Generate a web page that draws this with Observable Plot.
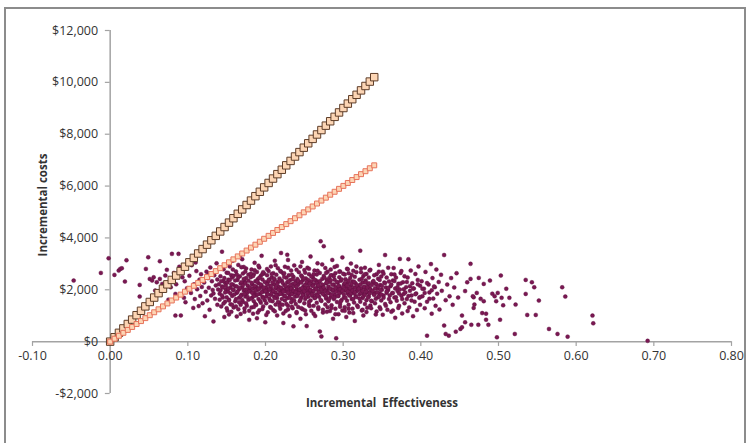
<!DOCTYPE html>
<html>
<head>
<meta charset="utf-8">
<script src="https://cdn.jsdelivr.net/npm/d3@7"></script>
<script src="https://cdn.jsdelivr.net/npm/@observablehq/plot@0.6"></script>
<style>
  html, body { margin: 0; padding: 0; background: #fff; }
  #wrap { position: relative; width: 749px; height: 443px; overflow: hidden; }
  #border { position: absolute; left: 4px; top: 7px; width: 742px; height: 460px; border: 2px solid #8c8c8c; box-sizing: border-box; }
  #chart { position: absolute; left: 0; top: 0; }
</style>
</head>
<body>
<div id="wrap"><div id="chart"></div><div id="border"></div></div>
<script>
// Axis ticks
const xTicks = [-0.1, 0, 0.1, 0.2, 0.3, 0.4, 0.5, 0.6, 0.7, 0.8];
const xTickLabels = ["-0.10", "0.00", "0.10", "0.20", "0.30", "0.40", "0.50", "0.60", "0.70", "0.80"];
const yTicks = [-2000, 0, 2000, 4000, 6000, 8000, 10000, 12000];
const yTickLabels = ["-$2,000", "$0", "$2,000", "$4,000", "$6,000", "$8,000", "$10,000", "$12,000"];

// Ceiling-ratio lines (squares)
const ceilingEffect = [0, .0057, .0113, .017, .0227, .0283, .034, .0397, .0453, .051, .0567, .0623, .068, .0737, .0793, .085, .0907, .0963, .102, .1077, .1133, .119, .1247, .1303, .136, .1417, .1473, .153, .1587, .1643, .17, .1757, .1813, .187, .1927, .1983, .204, .2097, .2153, .221, .2267, .2323, .238, .2437, .2493, .255, .2607, .2663, .272, .2777, .2833, .289, .2947, .3003, .306, .3117, .3173, .323, .3287, .3343, .34];
const costHighLine = [0, 171, 340, 510, 680, 850, 1020, 1190, 1360, 1530, 1700, 1870, 2040, 2210, 2380, 2550, 2720, 2890, 3060, 3230, 3400, 3570, 3740, 3910, 4080, 4250, 4420, 4590, 4760, 4930, 5100, 5270, 5440, 5610, 5780, 5950, 6120, 6290, 6460, 6630, 6800, 6970, 7140, 7310, 7480, 7650, 7820, 7990, 8160, 8330, 8500, 8670, 8840, 9010, 9180, 9350, 9520, 9690, 9860, 10030, 10200];
const costLowLine = [0, 113, 227, 340, 453, 567, 680, 793, 907, 1020, 1133, 1247, 1360, 1473, 1587, 1700, 1813, 1927, 2040, 2153, 2267, 2380, 2493, 2607, 2720, 2833, 2947, 3060, 3173, 3287, 3400, 3513, 3627, 3740, 3853, 3967, 4080, 4193, 4307, 4420, 4533, 4647, 4760, 4873, 4987, 5100, 5213, 5327, 5440, 5553, 5667, 5780, 5893, 6007, 6120, 6233, 6347, 6460, 6573, 6687, 6800];

// Simulated [incremental effectiveness, incremental cost] pairs
const simulations = [
[-.047,2355],[-.012,2652],[-.002,3215],[.0055,2575],[.011,2740],[.013,2806],[.015,2829],[.019,2316],[.021,3138],
[.049,3254],[.064,3100],[.046,2806],[.073,2768],[.038,2189],[.038,1737],[.051,2420],[.054,2355],[.056,2482],[.060,2289],[.064,2420],[.067,2227],[.058,1969],[.062,1903],[.071,2548],[.075,1620],[.078,2100],
[.0795,3385],[.088,3385],[.082,2650],[.085,2210],[.084,1004],[.091,1010],[.093,2480],[.095,1690],[.097,1520],[.099,2060],[.084,1840],[.089,2890],[.096,2330],
[.102,2540],[.104,1880],[.105,2950],[.107,1300],[.108,2210],[.109,1640],[.111,2720],[.112,2020],[.114,1370],[.114,3470],[.115,2390],[.116,1760],[.117,2600],[.118,2110],[.119,1480],[.110,3050],
[.121,2280],[.122,980],[.123,1920],[.124,2700],[.125,1590],[.126,2450],[.127,2080],[.128,1230],[.129,2860],[.130,1780],[.131,2330],[.132,1990],[.133,780],[.134,2560],[.135,1650],[.136,2170],[.137,3020],[.138,1420],[.139,2010],[.127,2620],[.133,1860],[.138,2400],
[.141,1850],[.142,2520],[.143,1360],[.144,3470],[.144,2130],[.145,1700],[.146,2790],[.147,950],[.148,2260],[.148,1540],[.149,2010],[.150,2660],[.151,1190],[.152,1920],[.152,2390],[.153,1620],[.154,2900],[.155,2080],[.155,1440],[.156,2560],[.157,1760],[.158,2200],[.158,3120],[.159,1320],[.159,1990],[.146,2340],[.153,1050],[.157,2470],
[.161,2140],[.161,1560],[.162,2710],[.163,970],[.163,1880],[.164,2380],[.165,1250],[.165,2960],[.166,2020],[.166,1690],[.167,2520],[.168,1420],[.168,2240],[.169,1810],[.170,3180],[.170,2090],[.171,1530],[.171,2630],[.172,1960],[.173,1150],[.173,2310],[.174,1740],[.175,2450],[.175,2820],[.176,1870],[.176,1380],[.177,2170],[.178,2580],[.178,1620],[.179,2040],[.179,840],[.172,2880],[.167,3300],[.174,2000],
[.181,1940],[.181,2480],[.182,1320],[.182,2780],[.183,1700],[.183,2210],[.184,1080],[.184,2050],[.185,2600],[.185,1560],[.186,1880],[.186,3040],[.187,2330],[.187,1450],[.188,2120],[.188,1780],[.189,2690],[.189,900],[.190,1990],[.190,2410],[.191,1640],[.191,2250],[.192,1210],[.192,2860],[.193,1840],[.193,2070],[.194,2540],[.194,1500],[.195,3310],[.195,2160],[.196,1730],[.196,2400],[.197,1920],[.197,1360],[.198,2630],[.198,2010],[.1997,745],[.199,1600],
[.201,2080],[.201,1480],[.202,2560],[.202,1870],[.203,2290],[.203,1130],[.204,2720],[.204,1990],[.205,1650],[.205,2400],[.206,2150],[.206,1340],[.207,2900],[.207,1800],[.208,2030],[.208,2470],[.209,1560],[.209,1940],[.210,2640],[.210,1220],[.211,2210],[.211,1730],[.212,2380],[.212,3120],[.213,1900],[.213,1430],[.214,2060],[.214,2580],[.215,1010],[.215,1680],[.216,2300],[.216,2830],[.217,1820],[.217,2120],[.218,1500],[.218,2440],[.219,1960],[.219,1270],[.220,2700],[.220,3420],
[.221,1850],[.221,2350],[.222,1420],[.222,2010],[.223,720],[.223,2620],[.224,1760],[.224,2180],[.225,2890],[.225,1590],[.226,2040],[.226,1180],[.227,2460],[.227,1930],[.228,1680],[.228,2290],[.229,3150],[.229,1380],[.230,2110],[.230,2560],[.231,1820],[.231,990],[.232,2380],[.232,1980],[.233,1520],[.233,2740],[.234,2070],[.234,1640],[.235,2220],[.235,1290],[.236,590],[.236,2500],[.237,1890],[.237,2940],[.238,1730],[.238,2150],[.239,1450],[.239,2330],[.240,2000],[.240,1100],[.228,3350],[.233,1950],
[.241,2420],[.241,1790],[.242,1340],[.242,2190],[.243,2680],[.243,1960],[.244,1560],[.244,2290],[.245,880],[.245,2030],[.246,2550],[.246,1700],[.247,1910],[.247,3070],[.248,1250],[.248,2370],[.249,1820],[.249,2140],[.250,2760],[.250,1480],[.251,2060],[.251,1640],[.252,2440],[.252,1060],[.253,600],[.253,1950],[.254,2260],[.254,2850],[.255,1730],[.255,2110],[.256,1410],[.256,2600],[.257,1880],[.257,2000],[.258,3280],[.258,1590],[.259,2330],[.259,1190],[.260,2170],[.260,1770],[.247,2500],[.255,2380],
[.261,1930],[.261,2480],[.262,1380],[.262,2210],[.263,2740],[.263,1680],[.264,2040],[.264,990],[.265,2360],[.265,1820],[.266,2590],[.266,1500],[.267,2120],[.267,3020],[.268,1260],[.268,1950],[.269,2300],[.269,1730],[.270,390],[.270,2650],[.271,3870],[.271,2080],[.272,200],[.272,1570],[.273,2420],[.273,1880],[.274,1120],[.274,2170],[.275,3680],[.275,2530],[.276,1790],[.276,2010],[.277,1430],[.277,2840],[.278,2250],[.278,1660],[.279,1960],[.279,2380],[.280,1330],[.280,2700],
[.281,2070],[.281,1560],[.282,2450],[.282,1870],[.283,1180],[.283,2300],[.284,2780],[.284,1720],[.285,2020],[.285,1400],[.286,2560],[.286,3150],[.287,1950],[.287,880],[.288,2200],[.288,1640],[.289,2390],[.289,1810],[.290,1270],[.290,2640],[.291,130],[.291,2090],[.292,1530],[.292,2920],[.293,1990],[.293,2280],[.294,1060],[.294,1760],[.295,2480],[.295,2140],[.296,1450],[.296,2710],[.297,1900],[.297,2350],[.298,1610],[.298,2030],[.299,3250],[.299,1200],
[.301,2200],[.301,1700],[.302,2590],[.302,1330],[.303,1960],[.303,2410],[.304,950],[.304,2100],[.305,2810],[.305,1580],[.306,1850],[.306,2270],[.307,1420],[.307,2640],[.308,2030],[.308,1120],[.309,2450],[.309,1780],[.310,3010],[.310,2170],[.311,1640],[.311,1990],[.312,2320],[.312,1270],[.313,2730],[.313,1880],[.314,1510],[.314,2090],[.315,2500],[.315,800],[.316,1760],[.316,2250],[.317,1940],[.317,2900],[.318,1390],[.319,2120],
[.321,1830],[.321,2390],[.322,3510],[.322,1540],[.323,2060],[.323,2680],[.324,1200],[.324,1930],[.325,2280],[.325,1680],[.326,2530],[.326,1010],[.327,2110],[.327,1820],[.328,2850],[.328,1450],[.329,2000],[.329,2360],[.330,1600],[.330,2610],[.331,1900],[.331,1310],[.332,2190],[.333,2470],[.333,1740],[.334,2070],[.335,1390],[.335,2770],[.336,1960],[.337,1560],[.338,2300],[.339,1850],
[.341,2240],[.341,1480],[.342,1900],[.343,2600],[.343,1160],[.344,2050],[.345,1710],[.345,2430],[.346,2960],[.347,1850],[.347,1330],[.348,2180],[.349,2510],[.349,1590],[.350,2000],[.351,1040],[.351,2700],[.352,1780],[.353,2280],[.354,3340],[.354,1450],[.355,2090],[.356,1880],[.356,2470],[.357,1230],[.358,1990],[.359,2320],[.359,1640],
[.361,2140],[.361,1520],[.362,2600],[.363,1870],[.364,1200],[.364,2360],[.365,2840],[.366,1700],[.367,2050],[.367,920],[.368,2470],[.369,1580],[.370,1950],[.371,2230],[.372,1380],[.373,3190],[.373,2010],[.374,2650],[.375,1770],[.376,1090],[.377,2290],[.378,1840],[.379,2520],[.379,1480],
[.381,2100],[.382,1640],[.383,2470],[.384,3180],[.385,1320],[.386,1960],[.387,2740],[.388,1780],[.389,2250],[.390,980],[.391,2050],[.392,1540],[.393,2610],[.394,1860],[.395,1220],[.396,2380],[.397,2900],[.398,1690],[.399,2160],[.399,1420],
[.401,2330],[.402,1750],[.404,2040],[.405,1290],[.406,2690],[.408,232],[.408,1540],[.410,2200],[.411,1900],[.413,2990],[.414,1080],[.415,2450],[.416,1660],[.418,2100],[.419,1380],[.420,2780],
[.421,1850],[.423,2300],[.424,1240],[.426,2580],[.427,1960],[.430,618],[.430,3340],[.432,297],[.432,1600],[.434,2200],[.436,232],[.437,1750],[.439,2450],
[.441,1420],[.443,2090],[.445,386],[.446,2640],[.448,1700],[.451,490],[.453,1004],[.453,552],[.457,745],[.457,1950],
[.4597,2289],[.464,2420],[.4746,2459],[.481,2227],[.489,2355],[.468,1710],[.468,1300],
[.464,3000],[.465,650],[.467,1750],[.469,1430],[.472,1880],[.474,650],[.477,1650],[.479,1100],
[.481,1560],[.484,1080],[.484,845],[.487,650],[.492,1850],[.495,1750],[.497,1560],[.499,1880],[.502,845],
[.498,166],[.503,2548],[.504,1690],[.510,2040],[.514,1690],[.506,1400],
[.521,297],[.522,1428],[.535,2382],[.535,1841],[.537,1030],[.543,2289],[.546,2096],[.548,1030],[.552,1583],
[.565,490],[.576,297],[.582,2096],[.586,1737],[.589,193],[.621,1004],[.622,706],[.692,30],
[.140,2210],[.141,1620],[.142,1980],[.143,2330],[.144,1780],[.145,2090],[.146,1470],[.147,2450],[.148,1900],[.149,2160],
[.150,1710],[.151,2280],[.152,2050],[.153,1590],[.154,2380],[.155,1860],[.156,2210],[.157,1420],[.158,2000],[.159,2540],
[.160,1820],[.161,2360],[.162,1640],[.163,2130],[.164,1930],[.165,2480],[.166,1520],[.167,2070],[.168,1750],[.169,2290],
[.170,1610],[.171,2180],[.172,2420],[.173,1840],[.174,2260],[.175,1480],[.176,2010],[.177,1720],[.178,2350],[.179,1940],
[.180,2100],[.181,1650],[.182,2270],[.183,1880],[.184,2530],[.185,1760],[.186,2150],[.187,1990],[.188,1410],[.189,2320],
[.190,1830],[.191,2040],[.192,2460],[.193,1570],[.194,2200],[.195,1910],[.196,2610],[.197,1690],[.198,2090],[.199,2300],
[.200,1950],[.201,1740],[.202,2210],[.203,1820],[.204,2370],[.205,2020],[.206,1580],[.207,2150],[.208,1870],[.209,2290],
[.210,1960],[.211,2440],[.212,1680],[.213,2100],[.214,1790],[.215,2230],[.216,1530],[.217,2000],[.218,2350],[.219,1850],
[.220,2080],[.221,1640],[.222,2270],[.223,1930],[.224,2490],[.225,1770],[.226,2160],[.227,1450],[.228,2030],[.229,1880],
[.230,2320],[.231,1690],[.232,2180],[.233,2050],[.234,1830],[.235,2410],[.236,1960],[.237,1580],[.238,2240],[.239,1910],
[.240,2120],[.241,1760],[.242,2350],[.243,1870],[.244,2010],[.245,1620],[.246,2280],[.247,2060],[.248,1800],[.249,2440],
[.250,1940],[.251,2190],[.252,1710],[.253,2300],[.254,1860],[.255,2070],[.256,1530],[.257,2240],[.258,1990],[.259,2510],
[.260,1820],[.261,2150],[.262,1960],[.263,2390],[.264,1690],[.265,2040],[.266,2260],[.267,1780],[.268,2170],[.269,1900],
[.270,2330],[.271,1610],[.272,2010],[.273,2200],[.274,1840],[.275,2090],[.276,2460],[.277,1950],[.278,1730],[.279,2280],
[.280,1880],[.281,2130],[.282,1640],[.283,2040],[.284,2370],[.285,1810],[.286,2190],[.287,1990],[.288,2520],[.289,1700],
[.290,2080],[.291,1920],[.292,2300],[.293,1760],[.294,2150],[.295,1880],[.296,2020],[.297,1560],[.298,2400],[.299,1950],
[.300,2110],[.301,1820],[.302,2260],[.303,1690],[.304,2000],[.305,2170],[.306,1930],[.307,2350],[.308,1780],[.309,2060],
[.310,1870],[.311,2230],[.312,1970],[.313,1640],[.314,2310],[.315,1900],[.316,2080],[.317,1720],[.318,2170],[.319,1990],
[.320,2040],[.321,1660],[.322,2200],[.323,1880],[.324,2430],[.325,1950],[.326,1750],[.327,2120],[.328,1820],[.329,2280],
[.330,1930],[.331,2090],[.332,1700],[.333,2250],[.334,1860],[.335,2010],[.336,1580],[.337,2180],[.338,1960],[.339,2340],
[.340,1800],[.341,2060],[.342,1650],[.343,2210],[.344,1900],[.345,2120],[.346,1740],[.347,2380],[.348,1990],[.349,1820],
[.350,2150],[.352,1690],[.354,2260],[.356,1930],[.358,2070],[.360,1780],[.362,2200],[.364,1880],[.366,2340],[.368,1710],
[.370,2110],[.372,1860],[.374,2240],[.376,1640],[.378,2020],[.380,1900],[.382,2300],[.384,1760],[.386,2140],[.388,1590],
[.390,2050],[.393,1830],[.396,2210],[.399,1720],[.402,2040],[.405,1880],[.408,2260],[.411,1650],[.414,1980],[.417,2130],
[.152,2650],[.158,2780],[.163,2590],[.169,2870],[.174,2700],[.181,2620],[.186,2750],[.191,2930],[.197,2680],[.202,2800],
[.208,2610],[.213,2950],[.219,2720],[.224,2640],[.229,2850],[.234,2580],[.240,2770],[.245,2900],[.251,2660],[.256,2810],
[.262,2600],[.267,2730],[.273,2980],[.278,2650],[.284,2560],[.289,2880],[.295,2700],[.300,2620],[.306,2790],[.311,2570],
[.317,2680],[.323,2820],[.328,2600],[.334,2740],[.340,2560],[.346,2700],[.352,2620],[.358,2850],[.366,2590],[.375,2720],
[.150,1290],[.156,1150],[.162,1360],[.168,1070],[.173,1280],[.179,1190],[.185,1340],[.190,1120],[.196,1260],[.201,1030],
[.207,1310],[.212,1170],[.218,1380],[.223,1090],[.229,1240],[.234,1350],[.240,1140],[.246,1290],[.251,1200],[.257,1370],
[.262,1080],[.268,1330],[.274,1230],[.279,1150],[.285,1300],[.290,1060],[.296,1350],[.302,1190],[.307,1270],[.313,1100],
[.319,1340],[.325,1230],[.330,1140],[.336,1290],[.342,1050],[.348,1260],[.355,1380],[.362,1150],[.371,1300],[.383,1180]
];

const axisColor = "#a3a3a3";
const textColor = "#333333";
const font = "'Open Sans', 'DejaVu Sans', sans-serif";

const chart = Plot.plot({
  width: 749,
  height: 443,
  marginLeft: 32,
  marginRight: 18,
  marginTop: 30,
  marginBottom: 50,
  style: {fontFamily: font, background: "transparent", color: textColor},
  x: {domain: [-0.1, 0.8], axis: null},
  y: {domain: [-2000, 12000], axis: null},
  marks: [
    // axes through the origin
    Plot.ruleY([0], {x1: -0.1, x2: 0.8, stroke: axisColor, strokeWidth: 1.5}),
    Plot.ruleX([0], {y1: -2000, y2: 12000, stroke: axisColor, strokeWidth: 1.5}),
    Plot.ruleX(xTicks, {x: d => d, y1: 0, y2: -185, stroke: axisColor, strokeWidth: 1.2}),
    Plot.ruleY(yTicks, {y: d => d, x1: -0.0062, x2: 0, stroke: axisColor, strokeWidth: 1.2}),
    // simulations
    Plot.dot(simulations, {x: d => d[0], y: d => d[1], r: 2, fill: "#7a1852", stroke: "#5e0f3f", strokeWidth: 0.4}),
    // ceiling-ratio lines
    Plot.dot(ceilingEffect, {x: d => d, y: (d, i) => costHighLine[i], symbol: "square", r: 4.2, fill: "#fcd5b4", stroke: "#5e3d28", strokeWidth: 1}),
    Plot.dot(ceilingEffect, {x: d => d, y: (d, i) => costLowLine[i], symbol: "square", r: 2.8, fill: "#fcd5b4", stroke: "#e7735b", strokeWidth: 1}),
    // tick labels
    Plot.text(xTicks, {x: d => d, y: 0, text: (d, i) => xTickLabels[i], dy: 14, fontSize: 12.5, fill: textColor}),
    Plot.text(yTicks, {x: 0, y: d => d, text: (d, i) => yTickLabels[i], dx: -12, textAnchor: "end", fontSize: 12.5, fill: textColor}),
    // axis titles
    Plot.text(["Incremental  Effectiveness"], {frameAnchor: "bottom", text: d => d, dy: 13, fontSize: 11.5, fontWeight: "bold", fill: textColor}),
    Plot.text(["Incremental costs"], {frameAnchor: "left", text: d => d, rotate: -90, textAnchor: "middle", dx: 11, dy: -7, fontSize: 11.5, fontWeight: "bold", fill: textColor})
  ]
});
document.getElementById("chart").appendChild(chart);
</script>
</body>
</html>
